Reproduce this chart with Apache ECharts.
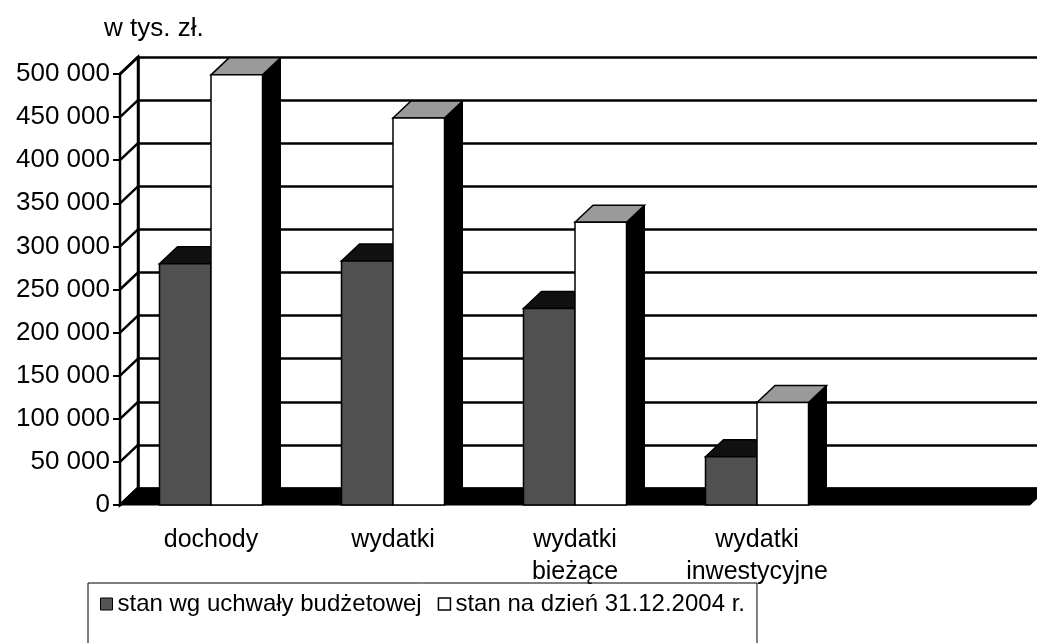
<!DOCTYPE html>
<html lang="pl">
<head>
<meta charset="UTF-8">
<title>w tys. zł.</title>
<script src="https://cdn.jsdelivr.net/npm/echarts@6/dist/echarts.min.js"></script>
<style>
  html, body { margin: 0; padding: 0; background: #fff; }
  #chart { width: 1037px; height: 643px; }
</style>
</head>
<body>
<div id="chart"></div>
<script>
// dane (w tys. zł)
var categories = ['dochody', 'wydatki', 'wydatki\nbieżące', 'wydatki\ninwestycyjne', ''];
var seriesNames = ['stan wg uchwały budżetowej', 'stan na dzień 31.12.2004 r.'];
var uchwala = [280000, 283000, 228000, 56000];
var stan2004 = [499000, 449000, 328000, 119000];
var yTicks = [0, 50000, 100000, 150000, 200000, 250000, 300000, 350000, 400000, 450000, 500000];

var DX = 18, DY = -17;   // przesunięcie "głębi" 3D
var FONT = '"Liberation Sans", Arial, sans-serif';

function fmt(v) {
    return String(v).replace(/\B(?=(\d{3})+(?!\d))/g, ' ');
}

// słupek 3D: przód, góra, bok
function barRenderer(side, frontFill, topFill) {
    return function (params, api) {
        var cat = api.value(0), val = api.value(1);
        var top = api.coord([cat, val]);
        var base = api.coord([cat, 0]);
        var band = api.size([1, 0])[0];
        var w = band * 0.283;
        var xl = side === 0 ? top[0] - w : top[0];
        var xr = xl + w;
        var yt = top[1], yb = base[1];
        return {
            type: 'group',
            children: [
                { type: 'polygon', shape: { points: [[xr, yt], [xr + DX, yt + DY], [xr + DX, yb + DY], [xr, yb]] },
                  style: { fill: '#000', stroke: '#000', lineWidth: 1 } },
                { type: 'polygon', shape: { points: [[xl, yt], [xr, yt], [xr + DX, yt + DY], [xl + DX, yt + DY]] },
                  style: { fill: topFill, stroke: '#000', lineWidth: 1.5 } },
                { type: 'rect', shape: { x: xl, y: yt, width: w, height: yb - yt },
                  style: { fill: frontFill, stroke: '#000', lineWidth: 1.5 } }
            ]
        };
    };
}

var chart = echarts.init(document.getElementById('chart'));

var option = {
    animation: false,
    backgroundColor: '#fff',
    title: {
        text: 'w tys. zł.',
        left: 99, top: 11,
        textStyle: { fontFamily: FONT, fontSize: 26, fontWeight: 'normal', color: '#000' }
    },
    legend: {
        left: 88, top: 583,
        orient: 'horizontal',
        icon: 'rect',
        itemWidth: 12, itemHeight: 12,
        itemGap: 16,
        padding: [9, 12, 30, 12],
        borderColor: '#000', borderWidth: 1,
        textStyle: { fontFamily: FONT, fontSize: 24, color: '#000' },
        data: [
            { name: seriesNames[0], itemStyle: { color: '#555', borderColor: '#000', borderWidth: 1 } },
            { name: seriesNames[1], itemStyle: { color: '#fff', borderColor: '#000', borderWidth: 1.5 } }
        ]
    },
    grid: [
        { left: 120, right: 7, top: 74, bottom: 138 },   // przód
        { left: 138, right: 0, top: 57, bottom: 155 }    // tylna ściana
    ],
    xAxis: [
        {
            type: 'category', gridIndex: 0, data: categories,
            axisLine: { show: false },
            axisTick: { show: false },
            axisLabel: { fontFamily: FONT, fontSize: 25, color: '#000', margin: 19, lineHeight: 32, interval: 0 }
        },
        { type: 'value', gridIndex: 1, min: 0, max: 1, show: false }
    ],
    yAxis: [
        {
            type: 'value', gridIndex: 0, min: 0, max: 500000, interval: 50000,
            axisLine: { show: true, lineStyle: { color: '#000', width: 2.5 } },
            axisTick: { show: true, length: 7, lineStyle: { color: '#000', width: 2 } },
            axisLabel: { fontFamily: FONT, fontSize: 26, color: '#000', margin: 10, formatter: fmt },
            splitLine: { show: false }
        },
        {
            type: 'value', gridIndex: 1, min: 0, max: 500000, interval: 50000,
            axisLine: { show: true, lineStyle: { color: '#000', width: 2.5 } },
            axisTick: { show: false },
            axisLabel: { show: false },
            splitLine: { show: true, lineStyle: { color: '#000', width: 2.5 } }
        }
    ],
    series: [
        {
            // podłoga i lewa ściana
            type: 'custom', xAxisIndex: 0, yAxisIndex: 0, clip: false, z: 1,
            silent: true,
            data: [[0, 0]],
            renderItem: function (params, api) {
                var cs = params.coordSys;
                var y0 = api.coord([0, 0])[1];
                var yTop = api.coord([0, 500000])[1];
                var x0 = cs.x, x1 = cs.x + cs.width;
                return {
                    type: 'group',
                    children: [
                        { type: 'polygon', shape: { points: [[x0, yTop], [x0 + DX, yTop + DY], [x0 + DX, y0 + DY], [x0, y0]] },
                          style: { fill: '#fff', stroke: '#000', lineWidth: 2.5 } },
                        { type: 'polygon', shape: { points: [[x0, y0], [x1, y0], [x1 + DX, y0 + DY], [x0 + DX, y0 + DY]] },
                          style: { fill: '#000', stroke: '#000', lineWidth: 1 } }
                    ]
                };
            }
        },
        {
            // skosy na lewej ścianie
            type: 'custom', xAxisIndex: 0, yAxisIndex: 0, clip: false, z: 1,
            silent: true,
            data: yTicks.map(function (v) { return [0, v]; }),
            renderItem: function (params, api) {
                var x0 = params.coordSys.x;
                var y = api.coord([0, api.value(1)])[1];
                return { type: 'line', shape: { x1: x0, y1: y, x2: x0 + DX, y2: y + DY },
                         style: { stroke: '#000', lineWidth: 2.5 } };
            }
        },
        {
            name: seriesNames[0],
            type: 'custom', xAxisIndex: 0, yAxisIndex: 0, clip: false, z: 3,
            itemStyle: { color: '#555' },
            encode: { x: 0, y: 1 },
            data: uchwala.map(function (v, i) { return [i, v]; }),
            renderItem: barRenderer(0, '#505050', '#111')
        },
        {
            name: seriesNames[1],
            type: 'custom', xAxisIndex: 0, yAxisIndex: 0, clip: false, z: 4,
            itemStyle: { color: '#fff' },
            encode: { x: 0, y: 1 },
            data: stan2004.map(function (v, i) { return [i, v]; }),
            renderItem: barRenderer(1, '#fff', '#9a9a9a')
        }
    ]
};

chart.setOption(option);
</script>
</body>
</html>
